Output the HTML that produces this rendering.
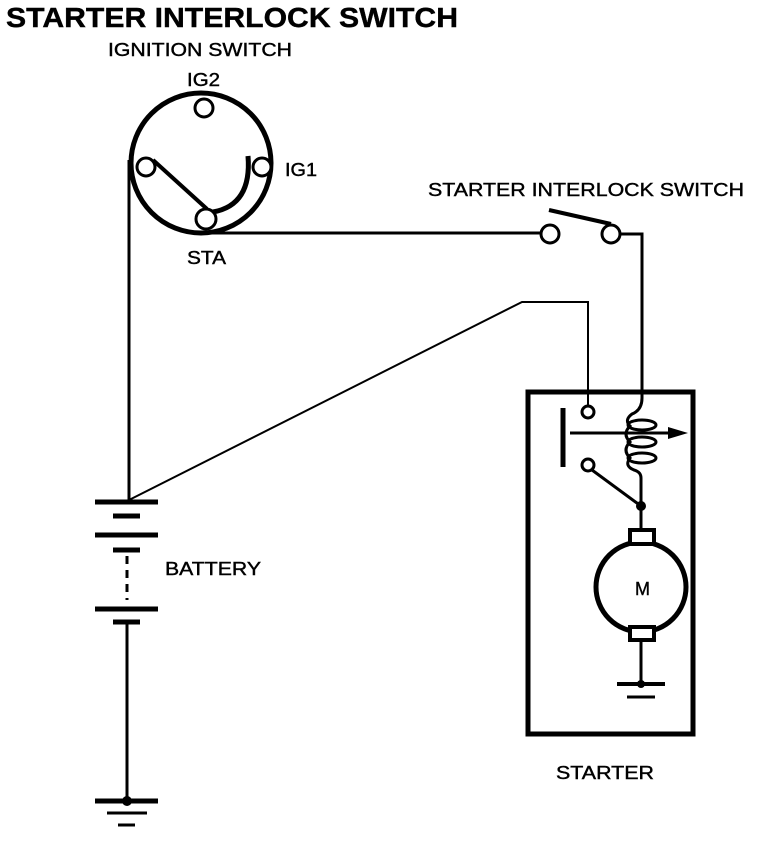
<!DOCTYPE html>
<html><head><style>
body{margin:0;background:#fff}
svg text{font-family:"Liberation Sans",Arial,sans-serif;fill:#000;stroke:#000;stroke-width:0.4}
</style></head><body>
<svg width="768" height="842" viewBox="0 0 768 842" xmlns="http://www.w3.org/2000/svg">
<text x="6" y="27" font-size="28" font-weight="bold" textLength="452" lengthAdjust="spacingAndGlyphs">STARTER INTERLOCK SWITCH</text>
<text x="108" y="56" font-size="18" textLength="184" lengthAdjust="spacingAndGlyphs">IGNITION SWITCH</text>
<text x="187" y="86" font-size="18" textLength="33" lengthAdjust="spacingAndGlyphs">IG2</text>
<text x="285" y="176" font-size="18" textLength="32" lengthAdjust="spacingAndGlyphs">IG1</text>
<text x="187" y="264" font-size="18" textLength="39" lengthAdjust="spacingAndGlyphs">STA</text>
<text x="428" y="196" font-size="18" textLength="316" lengthAdjust="spacingAndGlyphs">STARTER INTERLOCK SWITCH</text>
<text x="165" y="575" font-size="18" textLength="96" lengthAdjust="spacingAndGlyphs">BATTERY</text>
<text x="635" y="595" font-size="18">M</text>
<text x="556" y="779" font-size="18" textLength="98" lengthAdjust="spacingAndGlyphs">STARTER</text>
<g fill="none" stroke="#000" stroke-width="3">
<circle cx="201" cy="163" r="70" stroke-width="5"/>
<circle cx="204" cy="108" r="9" fill="#fff"/>
<circle cx="146" cy="167" r="9" fill="#fff"/>
<circle cx="262" cy="167" r="9" fill="#fff"/>
<circle cx="206" cy="219" r="10" fill="#fff"/>
<line x1="153" y1="160" x2="207" y2="209" stroke-width="4"/>
<path d="M248 156 Q252 205 213 212" stroke-width="5"/>
<line x1="129" y1="160" x2="129" y2="502"/>
<line x1="205" y1="233" x2="541" y2="233"/>
<circle cx="550" cy="234" r="9" fill="#fff"/>
<circle cx="611" cy="234" r="9" fill="#fff"/>
<line x1="549" y1="210" x2="611" y2="224" stroke-width="4"/>
<polyline points="620,234 642,234 642,398"/>
<polyline points="129,500 522,302 588,302 588,405" stroke-width="2"/>
<rect x="528" y="392" width="165" height="342" stroke-width="5"/>
<line x1="563" y1="408" x2="563" y2="467" stroke-width="5"/>
<circle cx="588" cy="412" r="6" fill="#fff"/>
<circle cx="588" cy="465" r="6" fill="#fff"/>
<line x1="592" y1="470" x2="641" y2="506"/>
<path d="M642 398 Q642 410 632 414 Q624 420 630 426 Q622 434 630 442 Q622 450 630 458 Q624 466 634 470 Q641 472 641 478 L641 506"/>
<ellipse cx="642" cy="425" rx="14" ry="5"/>
<ellipse cx="642" cy="442" rx="14" ry="5"/>
<ellipse cx="642" cy="458" rx="14" ry="5"/>
<line x1="570" y1="433" x2="675" y2="433"/>
<line x1="641" y1="506" x2="641" y2="530"/>
<circle cx="641" cy="587" r="45" stroke-width="5"/>
<line x1="641" y1="640" x2="641" y2="684"/>
<line x1="617" y1="684" x2="665" y2="684" stroke-width="4"/>
<line x1="627" y1="697" x2="655" y2="697"/>
<line x1="95" y1="502" x2="158" y2="502" stroke-width="5"/>
<line x1="113" y1="516" x2="140" y2="516" stroke-width="5"/>
<line x1="95" y1="535" x2="158" y2="535" stroke-width="5"/>
<line x1="113" y1="550" x2="140" y2="550" stroke-width="5"/>
<line x1="127" y1="556" x2="127" y2="600" stroke-dasharray="8,6"/>
<line x1="95" y1="609" x2="158" y2="609" stroke-width="5"/>
<line x1="113" y1="622" x2="140" y2="622" stroke-width="5"/>
<line x1="127" y1="622" x2="127" y2="801"/>
<line x1="95" y1="801" x2="158" y2="801" stroke-width="5"/>
<line x1="107" y1="813" x2="147" y2="813" stroke-width="3"/>
<line x1="118" y1="825" x2="135" y2="825" stroke-width="3"/>
</g>
<polygon points="668,427 688,433 668,439" fill="#000"/>
<circle cx="641" cy="506" r="5" fill="#000"/>
<circle cx="127" cy="801" r="5" fill="#000"/>
<circle cx="641" cy="684" r="4" fill="#000"/>
<rect x="630" y="530" width="24" height="14" fill="#fff" stroke="#000" stroke-width="4"/>
<rect x="630" y="627" width="24" height="13" fill="#fff" stroke="#000" stroke-width="4"/>
</svg>
</body></html>
